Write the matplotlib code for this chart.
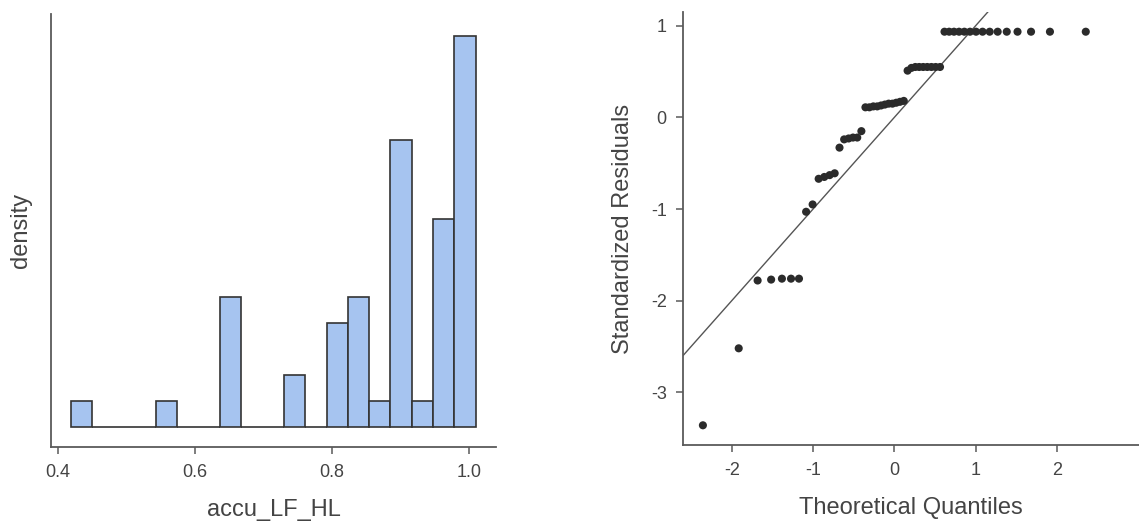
"""
plot.py
=======
Histogram of accu_LF_HL next to a Q-Q plot of the standardized residuals.
"""

from statistics import NormalDist

import numpy as np
from matplotlib import pyplot as plt


# --------------------------  Data  -------------------------- #

# histogram: 19 equal bins between these edges
bin_lo = 0.4186
bin_hi = 1.0098
bin_counts = [1, 0, 0, 0, 1, 0, 0, 5, 0, 0, 2, 0, 4, 5, 1, 11, 1, 8, 15]

hist_xticks = [0.4, 0.6, 0.8, 1.0]
hist_xticklabels = ["0.4", "0.6", "0.8", "1.0"]

# standardized residuals, sorted (n = 54)
residuals = [
    -3.36,
    -2.52,
    -1.78, -1.77, -1.76, -1.76, -1.76,
    -1.03, -0.95,
    -0.67, -0.65, -0.63, -0.61,
    -0.33,
    -0.24, -0.23, -0.22, -0.22,
    -0.15,
    0.11, 0.11, 0.12, 0.12, 0.13, 0.14, 0.15, 0.15, 0.16, 0.17, 0.18,
    0.51, 0.54, 0.55, 0.55, 0.55, 0.55, 0.55, 0.55, 0.55,
    0.935, 0.935, 0.935, 0.935, 0.935, 0.935, 0.935, 0.935,
    0.935, 0.935, 0.935, 0.935, 0.935, 0.935, 0.935,
]

qq_xticks = [-2, -1, 0, 1, 2]
qq_yticks = [-3, -2, -1, 0, 1]


# -------------------------  Styling  ------------------------- #

plt.rcParams["font.family"] = ["Liberation Sans", "DejaVu Sans"]
plt.rcParams["axes.unicode_minus"] = False

spine_col = "#5a5a5a"
text_col = "#444444"
bar_fill = "#a6c4f0"
bar_edge = "#333333"
dot_col = "#2b2b2b"

fig = plt.figure(figsize=(11.39, 5.29), dpi=100)
ax_h = fig.add_axes([0.0448, 0.155, 0.3907, 0.8185])
ax_q = fig.add_axes([0.600, 0.1588, 0.400, 0.8185])

for ax in (ax_h, ax_q):
    for side in ("top", "right"):
        ax.spines[side].set_visible(False)
    for side in ("left", "bottom"):
        ax.spines[side].set_color(spine_col)
        ax.spines[side].set_linewidth(1.3)
    ax.tick_params(colors=spine_col, labelcolor=text_col, labelsize=13,
                   length=5, width=1.1, pad=7)


# ------------------------  Histogram  ------------------------ #

counts = np.array(bin_counts, dtype=float)
edges = np.linspace(bin_lo, bin_hi, len(bin_counts) + 1)
width = edges[1] - edges[0]
density = counts / (counts.sum() * width)

ax_h.bar(edges[:-1], density, width=width, align="edge",
         color=bar_fill, edgecolor=bar_edge, linewidth=1.2)

unit = 1.0 / (counts.sum() * width)
ax_h.set_ylim(-0.755 * unit, 15.84 * unit)
ax_h.set_xlim(0.3898, 1.0394)
ax_h.set_xticks(hist_xticks)
ax_h.set_xticklabels(hist_xticklabels)
ax_h.set_yticks([])
ax_h.set_xlabel("accu_LF_HL", fontsize=17, color=text_col, labelpad=13)
ax_h.set_ylabel("density", fontsize=17, color=text_col, labelpad=14)


# -------------------------  Q-Q plot  ------------------------- #

res = np.sort(np.array(residuals))
n = len(res)
theo = np.array([NormalDist().inv_cdf((i + 0.5) / n) for i in range(n)])

ax_q.axline((0, 0), slope=1, color="#555555", linewidth=1.0, zorder=2)
ax_q.scatter(theo, res, s=34, color=dot_col, edgecolors="none", zorder=3)

ax_q.set_xlim(-2.595, 3.01)
ax_q.set_ylim(-3.575, 1.15)
ax_q.set_xticks(qq_xticks)
ax_q.set_yticks(qq_yticks)
ax_q.set_xlabel("Theoretical Quantiles", fontsize=17, color=text_col, labelpad=13)
ax_q.set_ylabel("Standardized Residuals", fontsize=17, color=text_col, labelpad=12)

fig.savefig("out.png", dpi=100)
